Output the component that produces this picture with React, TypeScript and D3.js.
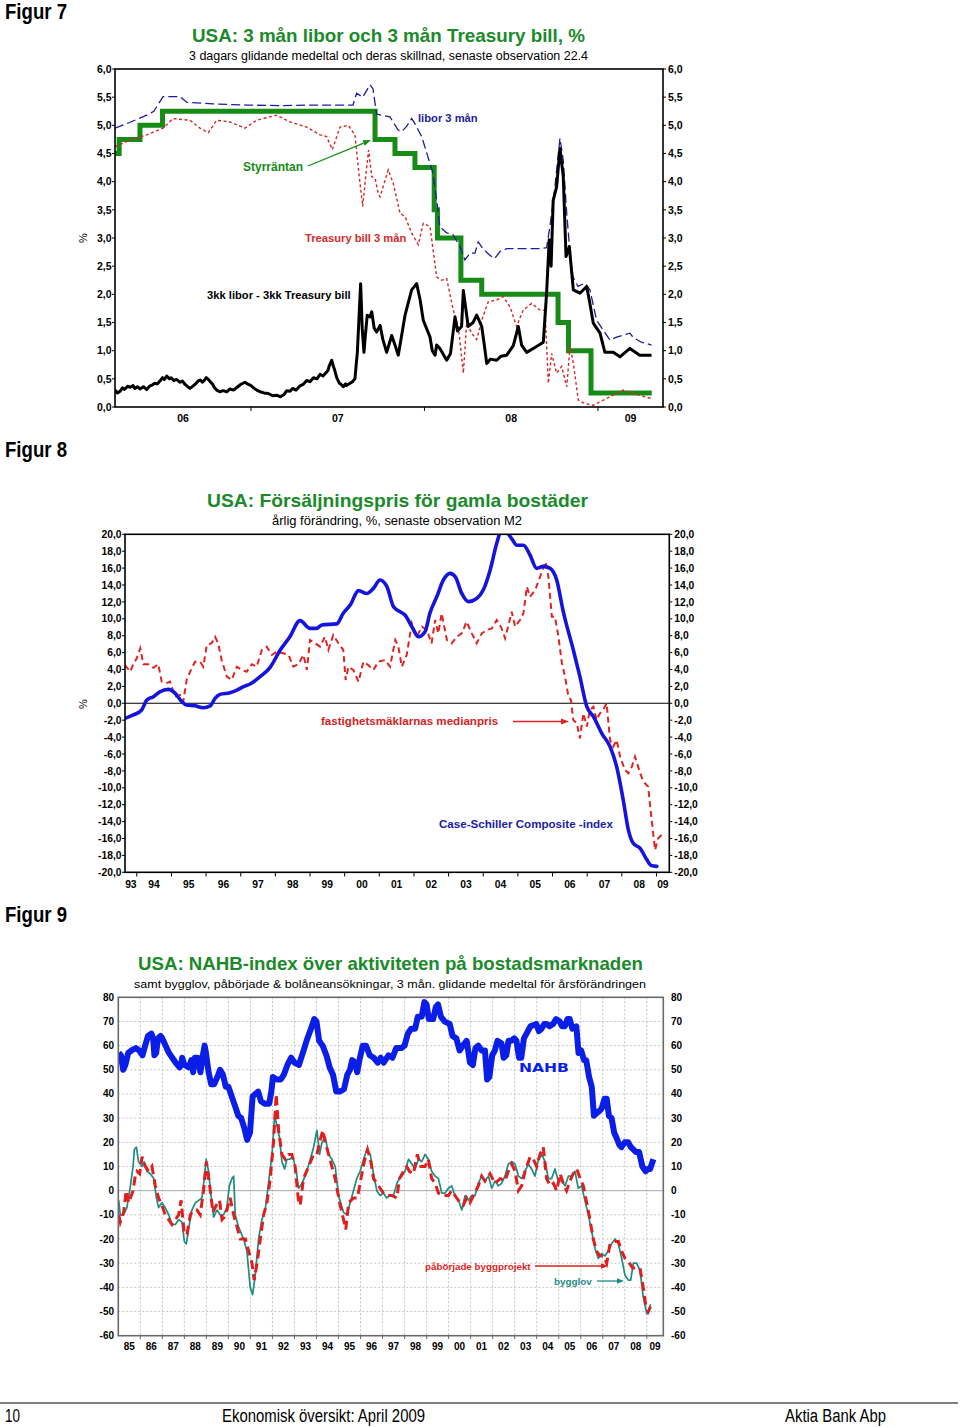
import React from "react";
import * as d3 from "d3";

type Pt = [number, number];

const FONT = "'Liberation Sans', Arial, Helvetica, sans-serif";
const NARROW = "'Liberation Sans Narrow', 'Arial Narrow', 'Liberation Sans', sans-serif";

// ================= Figur 7 data (decimal years) =================
const f7FedRate: Pt[] = [
  [2006.216, 4.5], [2006.24, 4.75], [2006.36, 5.0], [2006.49, 5.25], [2007.715, 4.75],
  [2007.83, 4.5], [2007.945, 4.25], [2008.056, 3.5], [2008.075, 3.0], [2008.21, 2.25],
  [2008.33, 2.0], [2008.77, 1.5], [2008.83, 1.0], [2008.96, 0.25], [2009.31, 0.25],
];
const f7Libor: Pt[] = [
  [2006.216, 4.95], [2006.30, 5.05], [2006.399, 5.18], [2006.44, 5.25], [2006.493, 5.51], [2006.591, 5.51],
  [2006.629, 5.41], [2006.781, 5.38], [2006.977, 5.36], [2007.167, 5.35], [2007.357, 5.36],
  [2007.588, 5.36], [2007.609, 5.57], [2007.644, 5.5], [2007.686, 5.72], [2007.703, 5.65],
  [2007.724, 5.2], [2007.801, 5.15], [2007.847, 4.92], [2007.869, 4.89], [2007.897, 4.98],
  [2007.926, 5.12], [2007.945, 5.03], [2007.984, 4.80], [2008.020, 4.44], [2008.049, 4.15],
  [2008.070, 3.67], [2008.089, 3.2], [2008.128, 3.09], [2008.164, 3.06], [2008.205, 2.85],
  [2008.233, 2.61], [2008.262, 2.73], [2008.291, 2.73], [2008.310, 2.93], [2008.337, 2.81],
  [2008.378, 2.69], [2008.406, 2.64], [2008.435, 2.76], [2008.474, 2.81], [2008.666, 2.81],
  [2008.704, 2.83], [2008.723, 3.2], [2008.752, 3.91], [2008.781, 4.77], [2008.800, 4.38],
  [2008.820, 3.44], [2008.839, 2.73], [2008.856, 2.31], [2008.885, 2.14], [2008.925, 2.2],
  [2008.954, 2.08], [2008.992, 1.54], [2009.029, 1.37], [2009.069, 1.19], [2009.108, 1.24],
  [2009.184, 1.31], [2009.202, 1.24], [2009.250, 1.15], [2009.309, 1.10],
];
const f7TBill: Pt[] = [
  [2006.216, 4.62], [2006.303, 4.74], [2006.399, 4.83], [2006.493, 4.95], [2006.550, 5.12],
  [2006.648, 5.09], [2006.706, 4.95], [2006.754, 4.87], [2006.802, 5.09], [2006.879, 5.06],
  [2006.965, 4.95], [2007.033, 5.09], [2007.148, 5.18], [2007.225, 5.06], [2007.321, 4.97],
  [2007.398, 4.83], [2007.436, 4.8], [2007.469, 4.57], [2007.513, 4.97], [2007.561, 5.0],
  [2007.599, 4.83], [2007.624, 4.09], [2007.644, 3.56], [2007.663, 4.15], [2007.678, 4.56],
  [2007.696, 4.09], [2007.715, 4.06], [2007.734, 3.79], [2007.744, 3.73], [2007.791, 4.21],
  [2007.820, 3.97], [2007.859, 3.44], [2007.888, 3.38], [2007.926, 3.09], [2007.964, 2.88],
  [2007.993, 3.26], [2008.032, 3.2], [2008.070, 2.31], [2008.099, 2.25], [2008.128, 2.28],
  [2008.166, 1.72], [2008.195, 1.43], [2008.224, 0.6], [2008.243, 1.49], [2008.272, 1.31],
  [2008.301, 1.2], [2008.330, 1.54], [2008.368, 1.87], [2008.416, 1.9], [2008.454, 1.96],
  [2008.493, 1.78], [2008.531, 1.43], [2008.569, 1.72], [2008.618, 1.84], [2008.666, 1.72],
  [2008.695, 1.72], [2008.714, 0.42], [2008.733, 0.95], [2008.762, 0.6], [2008.791, 0.72],
  [2008.820, 0.36], [2008.839, 1.07], [2008.858, 0.78], [2008.887, 0.12], [2008.925, 0.06],
  [2008.973, 0.03], [2009.031, 0.12], [2009.088, 0.21], [2009.146, 0.30], [2009.202, 0.24],
  [2009.309, 0.15],
];
const f7Spread: Pt[] = [
  [2006.216, 0.30], [2006.23, 0.25], [2006.245, 0.28], [2006.26, 0.34], [2006.27, 0.31],
  [2006.29, 0.37], [2006.303, 0.35], [2006.32, 0.38], [2006.33, 0.33], [2006.345, 0.36],
  [2006.36, 0.32], [2006.38, 0.36], [2006.399, 0.31], [2006.415, 0.37], [2006.43, 0.39],
  [2006.445, 0.42], [2006.46, 0.41], [2006.475, 0.46], [2006.49, 0.52], [2006.50, 0.49],
  [2006.514, 0.55], [2006.53, 0.50], [2006.54, 0.52], [2006.555, 0.47], [2006.57, 0.49],
  [2006.591, 0.44], [2006.605, 0.46], [2006.62, 0.40], [2006.635, 0.36], [2006.648, 0.33],
  [2006.665, 0.37], [2006.68, 0.41], [2006.695, 0.46], [2006.706, 0.48], [2006.72, 0.44],
  [2006.73, 0.47], [2006.742, 0.52], [2006.754, 0.49], [2006.768, 0.44], [2006.78, 0.40],
  [2006.79, 0.34], [2006.802, 0.30], [2006.82, 0.27], [2006.84, 0.29], [2006.86, 0.27],
  [2006.879, 0.32], [2006.90, 0.30], [2006.92, 0.35], [2006.94, 0.40], [2006.965, 0.44],
  [2006.98, 0.41], [2007.00, 0.38], [2007.015, 0.34], [2007.033, 0.30], [2007.052, 0.27],
  [2007.075, 0.25], [2007.10, 0.24], [2007.125, 0.20], [2007.148, 0.21], [2007.17, 0.18],
  [2007.19, 0.22], [2007.206, 0.29], [2007.225, 0.28], [2007.24, 0.33], [2007.26, 0.30],
  [2007.28, 0.37], [2007.30, 0.40], [2007.321, 0.47], [2007.34, 0.45], [2007.36, 0.52],
  [2007.38, 0.50], [2007.398, 0.58], [2007.415, 0.55], [2007.436, 0.62], [2007.445, 0.66],
  [2007.45, 0.72], [2007.465, 0.83], [2007.475, 0.72], [2007.48, 0.68], [2007.494, 0.52],
  [2007.51, 0.42], [2007.52, 0.40], [2007.532, 0.36], [2007.545, 0.41], [2007.55, 0.38],
  [2007.571, 0.42], [2007.585, 0.45], [2007.599, 0.5], [2007.613, 0.97], [2007.632, 2.19],
  [2007.641, 1.4], [2007.651, 0.97], [2007.66, 1.3], [2007.670, 1.63], [2007.686, 1.6],
  [2007.696, 1.69], [2007.71, 1.40], [2007.724, 1.33], [2007.744, 1.45], [2007.76, 1.2],
  [2007.782, 0.97], [2007.811, 1.27], [2007.83, 1.1], [2007.849, 0.92], [2007.888, 1.63],
  [2007.926, 2.08], [2007.955, 2.19], [2007.975, 1.9], [2007.993, 1.54], [2008.032, 1.24],
  [2008.045, 1.0], [2008.061, 0.92], [2008.070, 1.1], [2008.089, 1.04], [2008.128, 0.83],
  [2008.15, 0.95], [2008.176, 1.6], [2008.19, 1.35], [2008.214, 1.43], [2008.224, 2.07],
  [2008.252, 1.43], [2008.28, 1.5], [2008.301, 1.63], [2008.330, 1.43], [2008.345, 1.1],
  [2008.359, 0.77], [2008.38, 0.85], [2008.416, 0.83], [2008.44, 0.90], [2008.474, 0.92],
  [2008.512, 1.09], [2008.541, 1.43], [2008.56, 1.1], [2008.589, 0.97], [2008.627, 1.04],
  [2008.66, 1.1], [2008.685, 1.15], [2008.704, 2.02], [2008.719, 2.97], [2008.73, 2.5],
  [2008.742, 3.67], [2008.762, 3.91], [2008.781, 4.59], [2008.800, 4.09], [2008.816, 2.67],
  [2008.835, 2.85], [2008.858, 2.08], [2008.896, 2.02], [2008.935, 2.14], [2008.95, 1.9],
  [2008.973, 1.49], [2009.012, 1.31], [2009.040, 0.97], [2009.088, 0.97], [2009.127, 0.89],
  [2009.184, 1.04], [2009.241, 0.92], [2009.309, 0.92],
];
const f7YTicks = [0, 0.5, 1, 1.5, 2, 2.5, 3, 3.5, 4, 4.5, 5, 5.5, 6];
const f7YearTicks = [2007, 2008, 2009];
const f7Years = [2006, 2007, 2008, 2009];
const f7YearLabels = ["06", "07", "08", "09"];

// ================= Figur 8 data =================
const f8CaseShiller: Pt[] = [
  [1993.66, -1.78], [1993.90, -1.38], [1994.14, -0.79], [1994.29, 0.39], [1994.48, 0.78],
  [1994.67, 1.37], [1994.91, 1.65], [1995.11, 1.18], [1995.30, 0.19], [1995.44, -0.2],
  [1995.68, -0.3], [1995.92, -0.52], [1996.12, -0.3], [1996.26, 0.59], [1996.40, 1.06],
  [1996.69, 1.26], [1996.89, 1.57], [1997.08, 1.97], [1997.27, 2.28], [1997.56, 3.15],
  [1997.85, 4.26], [1998.14, 6.31], [1998.42, 7.88], [1998.71, 9.78], [1999.00, 8.87],
  [1999.19, 8.87], [1999.34, 9.27], [1999.77, 9.4], [1999.96, 10.65], [2000.16, 11.63],
  [2000.40, 13.33], [2000.64, 13.0], [2000.83, 13.6], [2001.02, 14.6], [2001.22, 13.8],
  [2001.41, 11.43], [2001.60, 10.84], [2001.74, 10.45], [2001.94, 9.07], [2002.13, 7.88],
  [2002.32, 8.47], [2002.46, 10.65], [2002.66, 12.62], [2002.85, 14.6], [2003.04, 15.38],
  [2003.19, 15.0], [2003.38, 13.0], [2003.57, 12.03], [2003.81, 12.4], [2004.00, 13.4],
  [2004.20, 15.78], [2004.39, 18.93], [2004.53, 20.5], [2004.63, 20.4], [2004.82, 19.5],
  [2004.97, 18.7], [2005.16, 18.7], [2005.35, 17.55], [2005.54, 15.97], [2005.73, 16.2],
  [2005.93, 15.97], [2006.12, 14.6], [2006.31, 10.84], [2006.60, 6.31], [2006.79, 3.15],
  [2006.99, -0.4], [2007.18, -1.58], [2007.42, -3.55], [2007.66, -5.13], [2007.85, -7.5],
  [2008.04, -11.44], [2008.19, -15.0], [2008.33, -16.57], [2008.53, -17.16], [2008.72, -18.5],
  [2008.85, -19.2], [2009.01, -19.3],
];
const f8Median: Pt[] = [
  [1993.66, 4.53], [1993.81, 3.74], [1993.90, 4.63], [1994.00, 5.33], [1994.10, 6.51],
  [1994.19, 4.63], [1994.33, 4.63], [1994.48, 4.2], [1994.62, 4.63], [1994.72, 2.56],
  [1994.87, 2.4], [1994.96, 2.56], [1995.11, 0.78], [1995.25, 0.98], [1995.34, 0.19],
  [1995.44, 2.76], [1995.54, 3.74], [1995.68, 4.92], [1995.83, 4.92], [1995.92, 4.33],
  [1996.02, 6.9], [1996.16, 7.1], [1996.26, 7.88], [1996.35, 7.1], [1996.45, 5.12],
  [1996.60, 3.15], [1996.74, 2.76], [1996.89, 4.33], [1997.03, 3.94], [1997.17, 3.74],
  [1997.32, 4.63], [1997.46, 4.33], [1997.61, 6.31], [1997.75, 6.7], [1997.90, 5.72],
  [1998.04, 6.1], [1998.23, 5.92], [1998.38, 5.72], [1998.52, 4.33], [1998.66, 4.63],
  [1998.81, 5.72], [1998.91, 3.94], [1999.00, 7.49], [1999.15, 7.1], [1999.29, 6.7],
  [1999.43, 7.88], [1999.53, 6.31], [1999.67, 8.08], [1999.82, 7.1], [1999.96, 6.31],
  [2000.03, 2.76], [2000.11, 4.33], [2000.25, 3.94], [2000.40, 2.56], [2000.54, 4.92],
  [2000.68, 4.53], [2000.83, 3.94], [2000.97, 4.92], [2001.17, 5.12], [2001.31, 4.33],
  [2001.46, 7.49], [2001.55, 6.7], [2001.65, 4.33], [2001.79, 5.72], [2001.94, 9.47],
  [2002.08, 7.88], [2002.23, 9.07], [2002.37, 8.67], [2002.51, 7.1], [2002.61, 9.86],
  [2002.70, 8.28], [2002.80, 10.65], [2002.95, 7.49], [2003.09, 7.1], [2003.24, 7.88],
  [2003.38, 8.28], [2003.52, 9.66], [2003.67, 8.28], [2003.81, 7.1], [2003.96, 8.28],
  [2004.10, 8.67], [2004.25, 8.87], [2004.39, 9.86], [2004.53, 8.87], [2004.63, 7.69],
  [2004.72, 9.07], [2004.82, 10.84], [2004.92, 9.07], [2005.06, 9.86], [2005.16, 10.65],
  [2005.26, 13.8], [2005.35, 12.62], [2005.50, 13.4], [2005.64, 14.98], [2005.73, 15.97],
  [2005.80, 16.76], [2005.88, 14.98], [2005.98, 10.25], [2006.07, 10.25], [2006.17, 7.88],
  [2006.27, 4.73], [2006.36, 3.15], [2006.46, 0.78], [2006.53, 0.39], [2006.60, -1.97],
  [2006.70, -2.37], [2006.79, -4.14], [2006.89, -1.18], [2006.99, -2.76], [2007.08, -0.79],
  [2007.18, -0.4], [2007.27, -1.97], [2007.37, -1.18], [2007.46, -0.79], [2007.56, 0.0],
  [2007.66, -4.34], [2007.75, -5.13], [2007.85, -4.34], [2007.95, -6.31], [2008.09, -7.88],
  [2008.19, -8.28], [2008.29, -7.49], [2008.38, -6.31], [2008.53, -8.28], [2008.62, -9.27],
  [2008.76, -9.86], [2008.86, -13.8], [2008.96, -17.36], [2009.05, -15.97], [2009.15, -15.58],
];
const f8YTicks = [-20, -18, -16, -14, -12, -10, -8, -6, -4, -2, 0, 2, 4, 6, 8, 10, 12, 14, 16, 18, 20];
const f8Years = [1993, 1994, 1995, 1996, 1997, 1998, 1999, 2000, 2001, 2002, 2003, 2004, 2005, 2006, 2007, 2008, 2009];
const f8YearLabels = ["93", "94", "95", "96", "97", "98", "99", "00", "01", "02", "03", "04", "05", "06", "07", "08", "09"];

// ================= Figur 9 data =================
const f9Nahb: Pt[] = [
  [1985.02, 57], [1985.12, 56], [1985.22, 50], [1985.32, 52], [1985.45, 57], [1985.60, 58],
  [1985.80, 59], [1985.95, 58], [1986.10, 56], [1986.22, 60], [1986.35, 64], [1986.50, 65],
  [1986.58, 63], [1986.64, 56], [1986.72, 57], [1986.80, 63], [1986.92, 64], [1987.00, 63],
  [1987.15, 60], [1987.30, 57], [1987.45, 55], [1987.60, 53], [1987.78, 51], [1987.86, 52],
  [1987.90, 55], [1988.00, 52], [1988.20, 51], [1988.32, 54], [1988.40, 49], [1988.48, 55],
  [1988.60, 55], [1988.73, 49], [1988.82, 55], [1988.92, 60], [1988.98, 57], [1989.10, 49],
  [1989.22, 44], [1989.35, 44], [1989.50, 47], [1989.62, 50], [1989.75, 48], [1989.88, 43],
  [1990.00, 43], [1990.15, 39], [1990.30, 35], [1990.45, 31], [1990.58, 30], [1990.72, 26],
  [1990.85, 21], [1990.98, 24], [1991.10, 39], [1991.22, 40], [1991.35, 41], [1991.48, 37],
  [1991.65, 36], [1991.85, 36], [1991.95, 41], [1992.02, 47], [1992.20, 46], [1992.38, 46],
  [1992.52, 48], [1992.68, 52], [1992.85, 55], [1993.00, 53], [1993.20, 52], [1993.38, 57],
  [1993.55, 62], [1993.75, 67], [1993.90, 71], [1994.00, 70], [1994.12, 62], [1994.28, 60],
  [1994.45, 56], [1994.60, 51], [1994.75, 48], [1994.90, 41], [1995.05, 41], [1995.25, 42],
  [1995.40, 48], [1995.52, 50], [1995.62, 54], [1995.75, 53], [1995.85, 49], [1995.95, 54],
  [1996.10, 60], [1996.25, 60], [1996.42, 56], [1996.60, 55], [1996.78, 53], [1996.92, 55],
  [1997.05, 53], [1997.27, 56], [1997.45, 55], [1997.62, 59], [1997.85, 59], [1998.00, 60],
  [1998.15, 65], [1998.30, 67], [1998.48, 67], [1998.60, 72], [1998.78, 72], [1998.90, 78],
  [1999.00, 77], [1999.10, 71], [1999.30, 71], [1999.42, 76], [1999.52, 77], [1999.65, 72],
  [1999.82, 70], [2000.05, 69], [2000.18, 64], [2000.35, 63], [2000.50, 58], [2000.65, 60],
  [2000.82, 62], [2000.97, 53], [2001.10, 52], [2001.22, 59], [2001.35, 60], [2001.50, 58],
  [2001.65, 58], [2001.75, 46], [2001.85, 47], [2001.98, 56], [2002.10, 58], [2002.22, 62],
  [2002.40, 61], [2002.50, 55], [2002.62, 56], [2002.72, 62], [2002.85, 62], [2002.98, 63],
  [2003.08, 62], [2003.20, 55], [2003.30, 55], [2003.42, 63], [2003.60, 66], [2003.72, 68],
  [2003.98, 69], [2004.10, 66], [2004.22, 67], [2004.35, 69], [2004.45, 69], [2004.58, 68],
  [2004.75, 69], [2004.88, 71], [2005.05, 70], [2005.15, 68], [2005.28, 68], [2005.40, 71],
  [2005.50, 71], [2005.62, 67], [2005.80, 68], [2005.90, 57], [2006.02, 58], [2006.15, 54],
  [2006.25, 54], [2006.38, 47], [2006.50, 43], [2006.60, 31], [2006.72, 32], [2006.85, 33],
  [2006.95, 34], [2007.08, 38], [2007.18, 38], [2007.28, 31], [2007.40, 30], [2007.52, 24],
  [2007.62, 22], [2007.75, 19], [2007.85, 18], [2008.00, 20], [2008.15, 20], [2008.28, 18],
  [2008.50, 16], [2008.65, 16], [2008.80, 10], [2008.95, 8], [2009.05, 9], [2009.15, 9],
  [2009.30, 13],
];
const f9Permits: Pt[] = [
  [1985.02, -4], [1985.09, -10], [1985.24, -10], [1985.39, -7], [1985.55, 2], [1985.67, 10],
  [1985.73, 17], [1985.82, 18], [1985.92, 12], [1986.08, 10], [1986.18, 12], [1986.30, 8],
  [1986.45, 7], [1986.61, 5], [1986.73, -3], [1986.83, -7], [1986.98, -5], [1987.13, -7],
  [1987.29, -10], [1987.44, -14], [1987.59, -14], [1987.74, -12], [1987.89, -13], [1988.00, -21],
  [1988.09, -22], [1988.19, -16], [1988.34, -8], [1988.50, -5], [1988.65, -4], [1988.80, -3],
  [1988.90, 5], [1988.99, 13], [1989.10, 8], [1989.21, -2], [1989.33, -11], [1989.48, -8],
  [1989.63, -10], [1989.78, -10], [1989.93, -7], [1990.04, 2], [1990.16, 5], [1990.24, 6],
  [1990.31, -10], [1990.46, -15], [1990.69, -20], [1990.84, -25], [1990.99, -40], [1991.10, -43],
  [1991.22, -35], [1991.37, -20], [1991.52, -12], [1991.67, -8], [1991.82, 3], [1991.98, 15],
  [1992.10, 31], [1992.20, 27], [1992.32, 22], [1992.43, 12], [1992.55, 9], [1992.66, 13],
  [1992.78, 13], [1992.93, 14], [1993.08, 8], [1993.19, 1], [1993.34, 3], [1993.53, 7],
  [1993.72, 13], [1993.87, 18], [1994.02, 25], [1994.14, 15], [1994.25, 20], [1994.40, 22],
  [1994.55, 15], [1994.70, 13], [1994.85, 10], [1995.00, -2], [1995.23, -9], [1995.38, -10],
  [1995.53, -5], [1995.68, 0], [1995.83, 5], [1995.98, 8], [1996.14, 13], [1996.29, 17],
  [1996.44, 15], [1996.59, 7], [1996.74, 0], [1996.89, -2], [1997.04, -1], [1997.19, -3],
  [1997.34, -2], [1997.50, -2], [1997.65, 3], [1997.77, 5], [1997.87, 6], [1998.02, 8],
  [1998.18, 13], [1998.33, 11], [1998.48, 9], [1998.63, 13], [1998.78, 12], [1998.93, 15],
  [1999.08, 13], [1999.23, 8], [1999.39, 6], [1999.54, 5], [1999.69, -1], [1999.84, -1],
  [1999.99, 1], [2000.14, 2], [2000.29, -2], [2000.45, -4], [2000.60, -8], [2000.75, -2],
  [2000.90, -4], [2001.05, -2], [2001.20, -2], [2001.35, 3], [2001.50, 6], [2001.65, 4],
  [2001.81, 6], [2001.96, 1], [2002.11, 4], [2002.26, 2], [2002.41, 3], [2002.56, 6],
  [2002.71, 11], [2002.87, 12], [2003.02, 11], [2003.17, 6], [2003.32, 5], [2003.47, 8],
  [2003.62, 11], [2003.77, 9], [2003.92, 6], [2004.08, 13], [2004.23, 15], [2004.38, 12],
  [2004.53, 5], [2004.68, 5], [2004.83, 9], [2004.98, 4], [2005.13, 4], [2005.29, 2],
  [2005.44, 6], [2005.59, 6], [2005.74, 8], [2005.89, 1], [2006.04, 2], [2006.19, -4],
  [2006.35, -10], [2006.50, -17], [2006.65, -24], [2006.80, -28], [2006.95, -26], [2007.10, -27],
  [2007.25, -25], [2007.40, -22], [2007.56, -20], [2007.71, -22], [2007.86, -28], [2008.01, -35],
  [2008.16, -37], [2008.27, -37], [2008.39, -30], [2008.54, -30], [2008.69, -33], [2008.84, -44],
  [2009.00, -51], [2009.07, -50], [2009.17, -47],
];
const f9Starts: Pt[] = [
  [1985.02, -10], [1985.09, -13], [1985.24, -9], [1985.36, 0], [1985.47, -5], [1985.55, -3],
  [1985.67, 0], [1985.77, 6], [1985.85, 8], [1985.97, 7], [1986.08, 14], [1986.23, 10],
  [1986.38, 8], [1986.53, 10], [1986.68, 2], [1986.83, -3], [1986.98, -6], [1987.13, -10],
  [1987.29, -12], [1987.44, -14], [1987.59, -12], [1987.74, -10], [1987.85, -4], [1988.00, -18],
  [1988.12, -18], [1988.27, -10], [1988.42, -8], [1988.57, -8], [1988.72, -10], [1988.87, 0],
  [1989.00, 12], [1989.15, 2], [1989.30, -9], [1989.45, -6], [1989.60, -4], [1989.71, -12],
  [1989.81, -11], [1989.93, -8], [1990.08, -3], [1990.24, -10], [1990.39, -15], [1990.54, -20],
  [1990.77, -20], [1990.92, -25], [1991.07, -30], [1991.17, -37], [1991.30, -30], [1991.45, -20],
  [1991.60, -10], [1991.75, -5], [1991.90, 5], [1992.05, 20], [1992.17, 40], [1992.28, 25],
  [1992.43, 15], [1992.58, 13], [1992.73, 15], [1992.88, 15], [1993.03, 10], [1993.19, -5],
  [1993.26, -6], [1993.41, 5], [1993.64, 10], [1993.87, 15], [1994.02, 15], [1994.14, 20],
  [1994.29, 25], [1994.40, 20], [1994.55, 15], [1994.70, 10], [1994.85, 5], [1995.05, -5],
  [1995.23, -12], [1995.33, -16], [1995.46, -5], [1995.68, -3], [1995.86, -3], [1996.02, 5],
  [1996.17, 12], [1996.32, 17], [1996.47, 12], [1996.59, 5], [1996.82, 2], [1997.04, -1],
  [1997.19, -2], [1997.42, -2], [1997.65, -3], [1997.77, 5], [1997.95, 8], [1998.10, 10],
  [1998.22, 8], [1998.40, 7], [1998.58, 15], [1998.74, 10], [1998.93, 10], [1999.08, 13],
  [1999.23, 5], [1999.39, 3], [1999.54, -1], [1999.76, -2], [1999.99, -2], [2000.14, 0],
  [2000.29, -2], [2000.52, -5], [2000.67, -6], [2000.82, -3], [2000.97, -5], [2001.13, -2],
  [2001.35, 2], [2001.50, 6], [2001.65, 4], [2001.88, 7], [2002.11, 3], [2002.34, 5],
  [2002.56, 4], [2002.71, 8], [2002.87, 11], [2003.02, 8], [2003.17, 0], [2003.32, 2],
  [2003.47, 8], [2003.70, 14], [2003.85, 13], [2004.00, 10], [2004.15, 15], [2004.30, 18],
  [2004.45, 5], [2004.61, 2], [2004.76, 3], [2004.91, 0], [2005.06, 7], [2005.21, 3],
  [2005.36, 0], [2005.51, 4], [2005.66, 7], [2005.82, 9], [2005.97, 5], [2006.12, 2],
  [2006.27, -5], [2006.42, -12], [2006.57, -20], [2006.72, -25], [2006.87, -27], [2007.03, -27],
  [2007.18, -30], [2007.33, -22], [2007.56, -21], [2007.71, -21], [2007.86, -25], [2008.01, -28],
  [2008.21, -30], [2008.36, -32], [2008.54, -32], [2008.69, -32], [2008.84, -40], [2008.96, -48],
  [2009.07, -50], [2009.17, -48],
];
const f9YTicks = [-60, -50, -40, -30, -20, -10, 0, 10, 20, 30, 40, 50, 60, 70, 80];
const f9Years = [1985, 1986, 1987, 1988, 1989, 1990, 1991, 1992, 1993, 1994, 1995, 1996, 1997,
  1998, 1999, 2000, 2001, 2002, 2003, 2004, 2005, 2006, 2007, 2008, 2009];
const f9YearLabels = ["85", "86", "87", "88", "89", "90", "91", "92", "93", "94", "95", "96", "97",
  "98", "99", "00", "01", "02", "03", "04", "05", "06", "07", "08", "09"];

// ================= helpers =================
const comma1 = (v: number) => v.toFixed(1).replace(".", ",");

function Arrow({ x1, y1, x2, y2, color, w = 1.2, head = 7 }: any) {
  const a = Math.atan2(y2 - y1, x2 - x1);
  const hx = x2 - head * Math.cos(a);
  const hy = y2 - head * Math.sin(a);
  const px = Math.sin(a) * head * 0.38;
  const py = -Math.cos(a) * head * 0.38;
  return (
    <g>
      <line x1={x1} y1={y1} x2={hx} y2={hy} stroke={color} strokeWidth={w} />
      <polygon points={`${x2},${y2} ${hx + px},${hy + py} ${hx - px},${hy - py}`} fill={color} />
    </g>
  );
}

function YLabels({ y, ticks, xl, xr, fmt, size, tick = 3 }: any) {
  return (
    <g fontFamily={FONT} fontWeight="bold" fontSize={size} fill="#000">
      {ticks.map((t: number) => (
        <g key={t}>
          <line x1={xl - tick} x2={xl} y1={y(t)} y2={y(t)} stroke="#000" strokeWidth={1} />
          <line x1={xr} x2={xr + tick} y1={y(t)} y2={y(t)} stroke="#000" strokeWidth={1} />
          <text x={xl - tick - 0.5} y={y(t)} dy="0.35em" textAnchor="end">{fmt(t)}</text>
          <text x={xr + tick + 2} y={y(t)} dy="0.35em" textAnchor="start">{fmt(t)}</text>
        </g>
      ))}
    </g>
  );
}

function XLabels({ x, years, labels, yText, size }: any) {
  const [d0, d1] = x.domain();
  return (
    <g fontFamily={FONT} fontWeight="bold" fontSize={size} fill="#000" textAnchor="middle">
      {years.map((yr: number, i: number) => {
        const a = Math.max(yr, d0), b = Math.min(yr + 1, d1);
        return <text key={yr} x={(x(a) + x(b)) / 2} y={yText}>{labels[i]}</text>;
      })}
    </g>
  );
}

function Title({ x, y, len, size, children }: any) {
  return (
    <text x={x} y={y} fontFamily={FONT} fontWeight="bold" fontSize={size} fill="#1a8a2a"
      textLength={len} lengthAdjust="spacingAndGlyphs">{children}</text>
  );
}
function Sub({ x, y, len, size, children }: any) {
  return (
    <text x={x} y={y} fontFamily={FONT} fontSize={size} fill="#000"
      textLength={len} lengthAdjust="spacingAndGlyphs">{children}</text>
  );
}
function FigLabel({ y, children }: any) {
  return (
    <text x={5} y={y} fontFamily={NARROW} fontWeight="bold" fontSize={22.5} fill="#000"
      textLength={62} lengthAdjust="spacingAndGlyphs">{children}</text>
  );
}

// ================= panels =================
function Fig7() {
  const x = d3.scaleLinear().domain([2006.216, 2009.375]).range([115, 663]);
  const y = d3.scaleLinear().domain([0, 6]).range([407, 69]);
  const line = d3.line<Pt>().x((d) => x(d[0])).y((d) => y(d[1]));
  const step = d3.line<Pt>().x((d) => x(d[0])).y((d) => y(d[1])).curve(d3.curveStepAfter);
  return (
    <g>
      <FigLabel y={19}>Figur 7</FigLabel>
      <Title x={192} y={41.5} len={393} size={19}>USA: 3 mån libor och 3 mån Treasury bill, %</Title>
      <Sub x={189} y={59.5} len={399} size={12.5}>3 dagars glidande medeltal och deras skillnad, senaste observation 22.4</Sub>
      <clipPath id="c7"><rect x={115} y={69} width={548} height={338} /></clipPath>
      <g clipPath="url(#c7)" fill="none">
        <path d={step(f7FedRate)!} stroke="#168c16" strokeWidth={5} />
        <path d={line(f7Libor)!} stroke="#1c1ca0" strokeWidth={1.3} strokeDasharray="9,4" />
        <path d={line(f7TBill)!} stroke="#d42a2a" strokeWidth={1.4} strokeDasharray="3,2.5" />
        <path d={line(f7Spread)!} stroke="#000" strokeWidth={3} strokeLinejoin="round" />
      </g>
      <rect x={115} y={69} width={548} height={338} fill="none" stroke="#000" strokeWidth={1.6} />
      <YLabels y={y} ticks={f7YTicks} xl={115} xr={663} fmt={comma1} size={10.5} />
      {f7YearTicks.map((t) => (
        <line key={t} x1={x(t)} x2={x(t)} y1={407} y2={411} stroke="#000" strokeWidth={1} />
      ))}
      <XLabels x={x} years={f7Years} labels={f7YearLabels} yText={422} size={10.5} />
      <text transform="translate(87,238) rotate(-90)" textAnchor="middle" fontFamily={FONT} fontSize={11}>%</text>
      <g fontFamily={FONT} fontWeight="bold">
        <text x={418} y={122} fontSize={11.2} fill="#1c1ca0">libor 3 mån</text>
        <text x={243} y={170.5} fontSize={12} fill="#168c16">Styrräntan</text>
        <text x={305} y={242} fontSize={11.2} fill="#d42a2a">Treasury bill 3 mån</text>
        <text x={207} y={299} fontSize={11.2} fill="#000">3kk libor - 3kk Treasury bill</text>
      </g>
      <Arrow x1={308} y1={166} x2={371} y2={140} color="#168c16" w={1.3} head={8} />
    </g>
  );
}

function Fig8() {
  const x = d3.scaleLinear().domain([1993.66, 2009.37]).range([125, 669.3]);
  const y = d3.scaleLinear().domain([-20, 20]).range([872.3, 534.3]);
  const line = d3.line<Pt>().x((d) => x(d[0])).y((d) => y(d[1]));
  const smooth = d3.line<Pt>().x((d) => x(d[0])).y((d) => y(d[1])).curve(d3.curveMonotoneX);
  return (
    <g>
      <FigLabel y={457}>Figur 8</FigLabel>
      <Title x={207} y={507} len={381} size={19}>USA: Försäljningspris för gamla bostäder</Title>
      <Sub x={272} y={524.5} len={250} size={12.5}>årlig förändring, %, senaste observation M2</Sub>
      <clipPath id="c8"><rect x={125} y={534.3} width={544.3} height={338} /></clipPath>
      <line x1={125} x2={669.3} y1={y(0)} y2={y(0)} stroke="#000" strokeWidth={1.1} />
      <g clipPath="url(#c8)" fill="none">
        <path d={line(f8Median)!} stroke="#e02424" strokeWidth={2} strokeDasharray="6,4" />
        <path d={smooth(f8CaseShiller)!} stroke="#1414dc" strokeWidth={3.6} strokeLinecap="round" />
      </g>
      <rect x={125} y={534.3} width={544.3} height={338} fill="none" stroke="#000" strokeWidth={1.6} />
      <YLabels y={y} ticks={f8YTicks} xl={125} xr={669.3} fmt={comma1} size={10.3} />
      {f8Years.slice(1).map((t) => (
        <line key={t} x1={x(t)} x2={x(t)} y1={872.3} y2={876.5} stroke="#000" strokeWidth={1} />
      ))}
      <XLabels x={x} years={f8Years} labels={f8YearLabels} yText={888} size={10.3} />
      <text transform="translate(87,704) rotate(-90)" textAnchor="middle" fontFamily={FONT} fontSize={11}>%</text>
      <g fontFamily={FONT} fontWeight="bold">
        <text x={321} y={725} fontSize={11.6} fill="#d42424">fastighetsmäklarnas medianpris</text>
        <text x={439} y={828} fontSize={11.6} fill="#1c1ca8">Case-Schiller Composite -index</text>
      </g>
      <Arrow x1={513} y1={721.5} x2={569} y2={721.5} color="#e02424" w={1.3} head={8} />
    </g>
  );
}

function Fig9() {
  const x = d3.scaleLinear().domain([1985.0, 2009.75]).range([118.3, 663.3]);
  const y = d3.scaleLinear().domain([-60, 80]).range([1335.7, 997.3]);
  const line = d3.line<Pt>().x((d) => x(d[0])).y((d) => y(d[1]));
  return (
    <g>
      <FigLabel y={922}>Figur 9</FigLabel>
      <Title x={138} y={970} len={505} size={19}>USA: NAHB-index över aktiviteten på bostadsmarknaden</Title>
      <Sub x={134} y={987.5} len={512} size={11.8}>samt bygglov, påbörjade &amp; bolåneansökningar, 3 mån. glidande medeltal för årsförändringen</Sub>
      <clipPath id="c9"><rect x={118.3} y={997.3} width={545} height={338.4} /></clipPath>
      <g stroke="#c4c4c4" strokeWidth={1} strokeDasharray="2,2">
        {f9YTicks.filter((t) => t !== 0 && t !== -60 && t !== 80).map((t) => (
          <line key={t} x1={118.3} x2={663.3} y1={y(t)} y2={y(t)} />
        ))}
        {f9Years.slice(1).map((t) => (
          <line key={t} x1={x(t)} x2={x(t)} y1={997.3} y2={1335.7} />
        ))}
      </g>
      <line x1={118.3} x2={663.3} y1={y(0)} y2={y(0)} stroke="#a8a8a8" strokeWidth={1} />
      <g clipPath="url(#c9)" fill="none">
        <path d={line(f9Permits)!} stroke="#1e8c82" strokeWidth={1.7} strokeLinejoin="round" />
        <path d={line(f9Starts)!} stroke="#e01e1e" strokeWidth={3} strokeDasharray="9,5" />
        <path d={line(f9Nahb)!} stroke="#0a1ee8" strokeWidth={6} strokeLinejoin="round" />
      </g>
      <rect x={118.3} y={997.3} width={545} height={338.4} fill="none" stroke="#6a6a6a" strokeWidth={1.6} />
      <g fontFamily={FONT} fontWeight="bold" fontSize={10} fill="#000">
        {f9YTicks.map((t) => (
          <g key={t}>
            <text x={114} y={y(t)} dy="0.35em" textAnchor="end">{String(t)}</text>
            <text x={671} y={y(t)} dy="0.35em" textAnchor="start">{String(t)}</text>
          </g>
        ))}
      </g>
      {f9Years.slice(1).map((t) => (
        <line key={t} x1={x(t)} x2={x(t)} y1={1335.7} y2={1339} stroke="#6a6a6a" strokeWidth={1} />
      ))}
      <XLabels x={x} years={f9Years} labels={f9YearLabels} yText={1350} size={10} />
      <text x={519} y={1072} fontFamily="'DejaVu Sans', Verdana, sans-serif" fontWeight="bold" fontSize={13}
        fill="#0a1ee8" textLength={50} lengthAdjust="spacingAndGlyphs">NAHB</text>
      <g fontFamily={FONT} fontWeight="bold">
        <text x={425} y={1269.5} fontSize={9.8} fill="#e01e1e">påbörjade byggprojekt</text>
        <text x={554} y={1284.5} fontSize={9.9} fill="#1e8c82">bygglov</text>
      </g>
      <Arrow x1={535} y1={1266} x2={608} y2={1266} color="#e01e1e" w={1.3} head={7} />
      <Arrow x1={597} y1={1281} x2={624} y2={1281} color="#1e8c82" w={1.3} head={7} />
    </g>
  );
}

export default function App() {
  return (
    <svg width={960} height={1427} viewBox="0 0 960 1427"
      style={{ position: "absolute", left: 0, top: 0, display: "block", background: "#fff" }}>
      <rect x={0} y={0} width={960} height={1427} fill="#fff" />
      <Fig7 />
      <Fig8 />
      <Fig9 />
      <line x1={0} x2={958} y1={1403} y2={1403} stroke="#000" strokeWidth={1} />
      <g fontFamily={NARROW} fontSize={18} fill="#000">
        <text x={5} y={1421.5} textLength={15} lengthAdjust="spacingAndGlyphs">10</text>
        <text x={222} y={1421.5} textLength={203} lengthAdjust="spacingAndGlyphs">Ekonomisk översikt: April 2009</text>
        <text x={785} y={1421.5} textLength={101} lengthAdjust="spacingAndGlyphs">Aktia Bank Abp</text>
      </g>
    </svg>
  );
}
